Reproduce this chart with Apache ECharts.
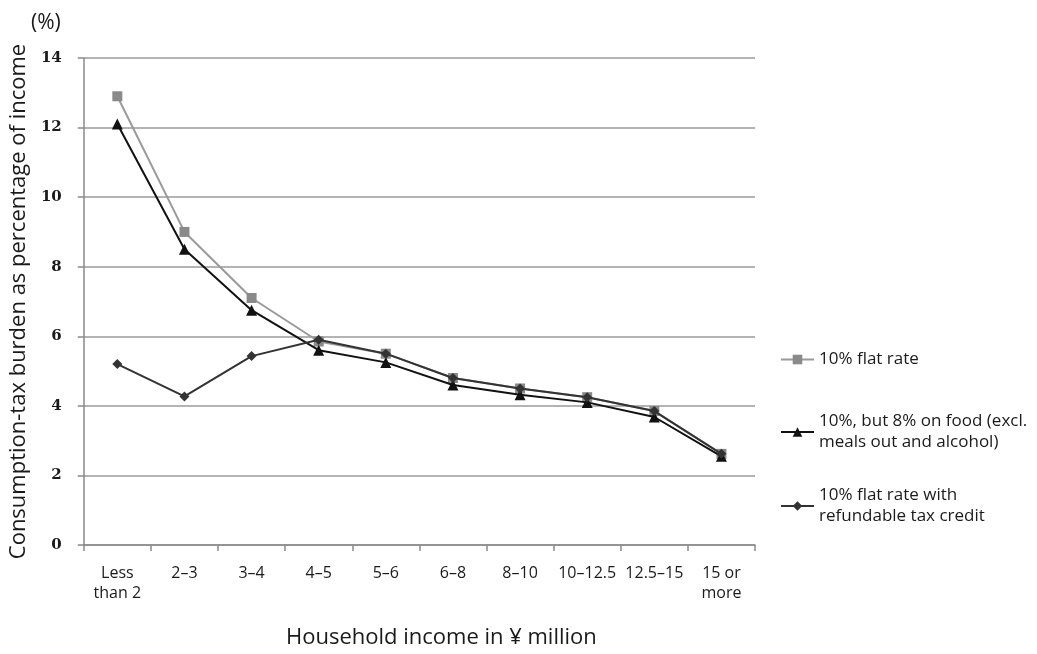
<!DOCTYPE html>
<html>
<head>
<meta charset="utf-8">
<script src="https://cdn.jsdelivr.net/npm/echarts@6/dist/echarts.min.js"></script>
<style>
html,body{margin:0;padding:0;background:#fff;}
#c{width:1037px;height:654px;}
</style>
</head>
<body>
<div id="c"></div>
<script>
var categories = ['Less\nthan 2', '2–3', '3–4', '4–5', '5–6', '6–8', '8–10', '10–12.5', '12.5–15', '15 or\nmore'];
var flatRate = [12.9, 9.0, 7.1, 5.85, 5.5, 4.8, 4.5, 4.25, 3.85, 2.62];
var reducedFood = [12.1, 8.5, 6.75, 5.6, 5.25, 4.6, 4.32, 4.1, 3.68, 2.55];
var taxCredit = [5.2, 4.27, 5.43, 5.9, 5.5, 4.8, 4.5, 4.25, 3.85, 2.62];
var yTicks = [0, 2, 4, 6, 8, 10, 12, 14];
var names = ['10% flat rate', '10%, but 8% on food (excl. meals out and alcohol)', '10% flat rate with refundable tax credit'];
var legendText = ['10% flat rate', '10%, but 8% on food (excl.\nmeals out and alcohol)', '10% flat rate with\nrefundable tax credit'];

var chart = echarts.init(document.getElementById('c'));
var font = '"Open Sans", "Noto Sans", sans-serif';
function legendFor(i, top) {
  return {
    orient: 'vertical', left: 775, top: top,
    data: [names[i]],
    itemWidth: 33, itemHeight: 12,
    formatter: function () { return legendText[i]; },
    textStyle: { fontFamily: font, fontSize: 17, color: '#1a1a1a', lineHeight: 21 }
  };
}
chart.setOption({
  animation: false,
  backgroundColor: '#fff',
  grid: { left: 81, right: 282, top: 58, bottom: 109 },
  legend: [legendFor(0, 344), legendFor(1, 406), legendFor(2, 480)],
  graphic: [
    { type: 'text', left: 31, top: 13, style: { text: '(%)', fontFamily: font, fontSize: 21, fill: '#1a1a1a' } }
  ],
  xAxis: {
    type: 'category', data: categories, boundaryGap: true,
    name: 'Household income in ¥ million', nameLocation: 'middle', nameGap: 82,
    nameTextStyle: { fontFamily: font, fontSize: 22, color: '#1a1a1a', padding: [0, 0, 0, 44] },
    axisLine: { lineStyle: { color: '#8a8a8a', width: 1.5 } },
    axisTick: { show: true, length: 6, lineStyle: { color: '#8a8a8a', width: 1.5 } },
    axisLabel: { fontFamily: font, fontSize: 16, color: '#1a1a1a', margin: 18, lineHeight: 20, interval: 0 }
  },
  yAxis: {
    type: 'value', min: 0, max: 14, interval: 2,
    name: 'Consumption-tax burden as percentage of income', nameLocation: 'middle', nameGap: 52,
    nameTextStyle: { fontFamily: font, fontSize: 22, color: '#1a1a1a' },
    axisLine: { show: true, lineStyle: { color: '#8a8a8a', width: 1.5 } },
    axisTick: { show: true, length: 6, lineStyle: { color: '#8a8a8a', width: 1.5 } },
    axisLabel: { fontFamily: '"DejaVu Serif", serif', fontWeight: 'bold', fontSize: 15, color: '#1a1a1a', margin: 22,
      formatter: function (v) { return yTicks.indexOf(v) >= 0 ? String(v) : ''; } },
    splitLine: { lineStyle: { color: '#9a9a9a', width: 1.5 } }
  },
  series: [
    { name: names[0], type: 'line', data: flatRate, symbol: 'rect', symbolSize: 10,
      lineStyle: { color: '#9a9a9a', width: 2 }, itemStyle: { color: '#8a8a8a' }, z: 2 },
    { name: names[1], type: 'line', data: reducedFood, symbol: 'triangle', symbolSize: 11,
      lineStyle: { color: '#111', width: 2 }, itemStyle: { color: '#111' }, z: 3 },
    { name: names[2], type: 'line', data: taxCredit, symbol: 'diamond', symbolSize: 10,
      lineStyle: { color: '#333', width: 2 }, itemStyle: { color: '#333' }, z: 4 }
  ]
});
</script>
</body>
</html>
